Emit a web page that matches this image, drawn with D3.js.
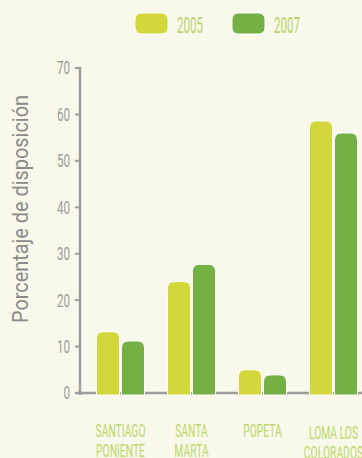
<!DOCTYPE html>
<html><head><meta charset="utf-8">
<script src="https://cdn.jsdelivr.net/npm/d3@7"></script>
<style>html,body{margin:0;padding:0;background:#f8f9ea;overflow:hidden;}</style>
</head><body>
<script>
const categories = [["SANTIAGO","PONIENTE"],["SANTA","MARTA"],["POPETA"],["LOMA LOS","COLORADOS"]];
const years = ["2005","2007"];
const values2005 = [13.2, 24.0, 5.0, 58.6];
const values2007 = [11.2, 27.7, 3.9, 56.0];
const yTicks = [0,10,20,30,40,50,60,70];
const yTitle = "Porcentaje de disposición";

const colors = {"2005":"#d2d83b","2007":"#74b043"};
const W = 362, H = 458;
const svg = d3.select("body").append("svg").attr("width",W).attr("height",H)
  .style("background","#f8f9ea").style("font-family","Roboto, 'Liberation Sans', sans-serif");

const y = d3.scaleLinear().domain([0,70]).range([393,68]);
const x0 = d3.scaleBand().domain(d3.range(categories.length)).range([85,369]).paddingInner(0.324).paddingOuter(0.162);
const x1 = d3.scaleBand().domain(years).range([0,x0.bandwidth()]).paddingInner(0.08);

function condense(sel, k){
  sel.each(function(){ const w=this.getComputedTextLength(); d3.select(this).attr("textLength", w*k).attr("lengthAdjust","spacingAndGlyphs"); });
}
function factor(str, size, weight, target){
  const t = svg.append("text").attr("font-size",size).attr("font-weight",weight).text(str);
  const w = t.node().getComputedTextLength(); t.remove(); return target/w;
}

// baseline
svg.append("line").attr("x1",76).attr("x2",W).attr("y1",y(0)).attr("y2",y(0))
  .attr("stroke","#9d9d9d").attr("stroke-width",2.5);

// bars
function topRounded(x,yy,w,h,r){ r=Math.min(r,w/2,h);
  return `M${x},${yy+h}V${yy+r}Q${x},${yy} ${x+r},${yy}H${x+w-r}Q${x+w},${yy} ${x+w},${yy+r}V${yy+h}Z`; }
const series = {"2005":values2005,"2007":values2007};
const g = svg.append("g");
categories.forEach((c,i)=>{
  years.forEach(yr=>{
    const v = series[yr][i];
    const bx = x0(i)+x1(yr), by = y(v), bh = y(0)+2-by;
    g.append("path").attr("d", topRounded(bx,by,x1.bandwidth(),bh,7))
      .attr("fill",colors[yr]).attr("stroke","#ffffff").attr("stroke-width",1);
  });
});

// y axis
svg.append("line").attr("x1",80).attr("x2",80).attr("y1",y(70)-1).attr("y2",y(0)+2)
  .attr("stroke","#9d9d9d").attr("stroke-width",2.5);
const kt = factor("70",18,400,13);
yTicks.forEach(t=>{
  svg.append("line").attr("x1",75).attr("x2",80).attr("y1",y(t)).attr("y2",y(t))
    .attr("stroke","#9d9d9d").attr("stroke-width",2);
  svg.append("text").attr("x",70).attr("y",y(t)).attr("dy","0.36em").attr("text-anchor","end")
    .attr("font-size",18).attr("font-weight",400).attr("fill","#999999").text(t).call(condense,kt);
});

// y title
svg.append("text").attr("transform","translate(28,209) rotate(-90)").attr("text-anchor","middle")
  .attr("font-size",22).attr("font-weight",400).attr("fill","#8a8a8a")
  .attr("textLength",228).attr("lengthAdjust","spacingAndGlyphs").text(yTitle);

// legend
const legendX = [135,232];
const kl = factor("2005",22,400,26);
years.forEach((yr,i)=>{
  svg.append("rect").attr("x",legendX[i]).attr("y",13).attr("width",33).attr("height",21).attr("rx",6)
    .attr("fill",colors[yr]).attr("stroke","#ffffff").attr("stroke-width",1);
  svg.append("text").attr("x",legendX[i]+42).attr("y",33).attr("font-size",22).attr("font-weight",400)
    .attr("fill","#b5d36b").text(yr).call(condense,kl);
});

// category labels (one text element per category, lines as tspans, horizontally condensed)
const fs = 19;
const kc = factor("SANTIAGO",fs,400,50);
categories.forEach((lines,i)=>{
  const cx = x0(i)+x0.bandwidth()/2;
  const off = i===3 ? 2 : 0;
  const t = svg.append("text").attr("transform",`translate(${cx},${437+off}) scale(${kc},1)`)
    .attr("text-anchor","middle").attr("font-size",fs).attr("font-weight",400).attr("fill","#bcd76a");
  lines.forEach((ln,j)=>{
    t.append("tspan").attr("x",0).attr("dy", j===0 ? 0 : 20).text(ln);
  });
});
</script>
</body></html>
